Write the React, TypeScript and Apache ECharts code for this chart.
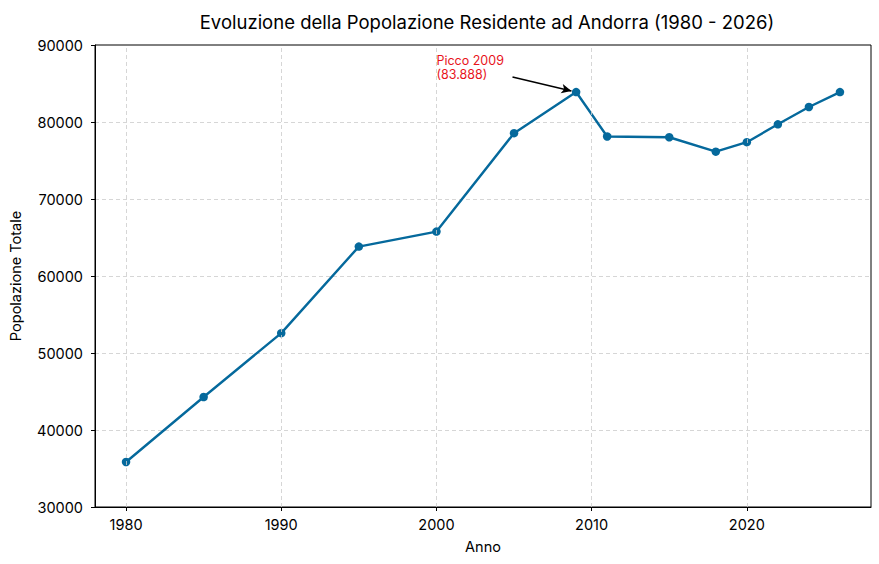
import { useEffect, useRef } from "react";
import * as echarts from "echarts";

const years = [1980, 1985, 1990, 1995, 2000, 2005, 2009, 2011, 2015, 2018, 2020, 2022, 2024, 2026];
const population = [35850, 44280, 52580, 63820, 65770, 78550, 83888, 78120, 78020, 76150, 77380, 79700, 81950, 83880];
const xTicks = [1980, 1990, 2000, 2010, 2020];
const peakLabel = "Picco 2009\n(83.888)";
const peakLabelAt = [2000, 85250];
const arrowFrom = [2004.9, 85850];
const arrowTo = [2008.7, 84030];

const FONT = "Inter, 'Noto Sans', sans-serif";

const App: React.FC = () => {
  const chartRef = useRef<HTMLDivElement>(null);

  useEffect(() => {
    document.body.style.margin = "0";
    if (!chartRef.current) return;
    const chart = echarts.init(chartRef.current, undefined, { renderer: "svg" });

    chart.setOption({
      animation: false,
      textStyle: { fontFamily: FONT },
      title: {
        text: "Evoluzione della Popolazione Residente ad Andorra (1980 - 2026)",
        left: 482,
        textAlign: "center",
        top: 7,
        textStyle: { fontSize: 18.5, fontWeight: "normal", color: "#000", fontFamily: FONT },
      },
      grid: {
        left: 95,
        right: 8,
        top: 45,
        bottom: 57,
        show: true,
        borderColor: "#000",
        borderWidth: 1,
      },
      xAxis: {
        type: "value",
        min: 1978,
        max: 2028,
        name: "Anno",
        nameLocation: "middle",
        nameGap: 32,
        nameTextStyle: { fontSize: 14.5, color: "#000" },
        axisLine: { show: true, onZero: false, lineStyle: { color: "#000" } },
        axisTick: { show: true, customValues: xTicks, length: 4, lineStyle: { color: "#000" } },
        axisLabel: {
          customValues: xTicks,
          fontSize: 14.5,
          color: "#000",
          margin: 10,
          formatter: (v: number) => String(v),
        },
        splitLine: { show: false },
      },
      yAxis: {
        type: "value",
        min: 30000,
        max: 90000,
        interval: 10000,
        name: "Popolazione Totale",
        nameLocation: "middle",
        nameGap: 72,
        nameTextStyle: { fontSize: 14.5, color: "#000" },
        axisLine: { show: true, lineStyle: { color: "#000" } },
        axisTick: { show: true, length: 4, lineStyle: { color: "#000" } },
        axisLabel: {
          fontSize: 14.5,
          color: "#000",
          margin: 12,
          formatter: (v: number) => String(v),
        },
        splitLine: {
          show: true,
          showMinLine: false,
          showMaxLine: false,
          lineStyle: { color: "#cccccc", type: [4, 3], width: 0.8 },
        },
      },
      series: [
        {
          type: "line",
          data: [],
          silent: true,
          markLine: {
            silent: true,
            symbol: ["none", "none"],
            label: { show: false },
            lineStyle: { color: "#cccccc", type: [4, 3], width: 0.8 },
            data: xTicks.map((x) => ({ xAxis: x })),
          },
        },
        {
          type: "line",
          data: years.map((y, i) => [y, population[i]]),
          symbol: "circle",
          symbolSize: 8.5,
          lineStyle: { color: "#05699c", width: 2.4 },
          itemStyle: { color: "#05699c" },
          markLine: {
            silent: true,
            symbol: ["none", "arrow"],
            symbolSize: [7, 10],
            label: { show: false },
            lineStyle: { color: "#000", width: 1.5, type: "solid" },
            data: [[{ coord: arrowFrom }, { coord: arrowTo }]],
          },
        },
      ],
    });

    const [px, py] = chart.convertToPixel({ gridIndex: 0 }, peakLabelAt) as number[];
    chart.setOption({
      graphic: [
        {
          type: "text",
          x: px,
          y: py,
          silent: true,
          style: {
            text: peakLabel,
            fill: "#e8141c",
            fontSize: 12.5,
            lineHeight: 14,
            fontFamily: FONT,
            verticalAlign: "bottom",
            align: "left",
          },
        },
      ],
    });

    return () => {
      chart.dispose();
    };
  }, []);

  return <div ref={chartRef} style={{ width: "879px", height: "564px" }} />;
};

export default App;
